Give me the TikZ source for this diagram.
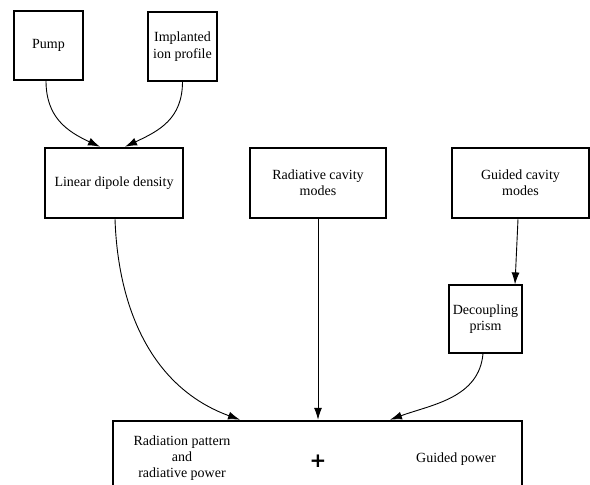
\documentclass[tikz,border=0pt]{standalone}
\usepackage{fontspec}
\setmainfont{Liberation Serif}
\newfontfamily\plusfont{DejaVu Sans}
\usetikzlibrary{arrows.meta}
\begin{document}
\begin{tikzpicture}[x=1pt,y=-1pt,
  every node/.style={font=\fontsize{14}{16.3}\selectfont, align=center, inner sep=0pt},
  thinbox/.style={draw, line width=1.2pt, minimum width=#1},
  thickbox/.style={draw, line width=2.5pt},
  arr/.style={line width=0.9pt, -{Latex[length=12pt,width=8pt]}}]
\useasboundingbox (0,0) rectangle (590,485);
\node[thinbox=69, minimum height=69] (pump) at (48.5,45.5) {Pump};
\node[thinbox=69, minimum height=69] (ion) at (182.5,46.5) {Implanted\\ion profile};
\node[thickbox, minimum width=138, minimum height=70] (lin) at (114,183) {Linear dipole density};
\node[thickbox, minimum width=136, minimum height=70] (rad) at (318,183) {Radiative cavity\\modes};
\node[thickbox, minimum width=137, minimum height=70] (gcm) at (520.5,183) {Guided cavity\\modes};
\node[thinbox=73, minimum height=68] (dp) at (485.5,319) {Decoupling\\prism};
\node[thickbox, minimum width=409, minimum height=90] (out) at (317.5,466) {};
\node (rp) at (182,458) {Radiation pattern\\and\\radiative power};
\node[font=\fontsize{20}{20}\plusfont\bfseries] (plus) at (318,461) {+};
\node (gp) at (456,459) {Guided power};
\draw[arr] ([xshift=-2.5pt]pump.south) to[out=-90,in=155,looseness=1.1] ([xshift=-14pt]lin.north);
\draw[arr] (ion.south) to[out=-90,in=25,looseness=1.1] ([xshift=11pt]lin.north);
\draw[arr] ([xshift=1pt]lin.south) to[out=-88,in=160] ([xshift=-77.5pt]out.north);
\draw[arr] (rad.south) -- (rad.south |- out.north);
\draw[arr] ([xshift=-2.5pt]gcm.south) -- ([xshift=29.5pt]dp.north);
\draw[arr] ([xshift=-2.5pt]dp.south) to[out=-95,in=20] ([xshift=72.5pt]out.north);
\end{tikzpicture}
\end{document}
